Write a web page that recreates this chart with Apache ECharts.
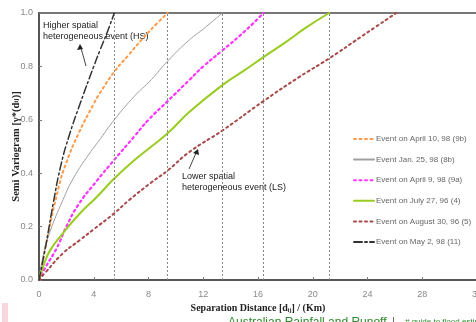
<!DOCTYPE html>
<html>
<head>
<meta charset="utf-8">
<script src="https://cdn.jsdelivr.net/npm/echarts@6/dist/echarts.min.js"></script>
<style>
  html, body { margin: 0; padding: 0; background: #fff; }
  #chart { width: 476px; height: 322px; }
</style>
</head>
<body>
<div id="chart"></div>
<script>
// distance (km) / semi-variogram pairs
var april10 = [[0, 0], [0.5, 0.13], [1.45, 0.35], [2, 0.44], [2.9, 0.55], [4, 0.66], [4.45, 0.7], [5.5, 0.78], [6.5, 0.84], [7.5, 0.9], [8.6, 0.96], [9.4, 1.0]];
var jan25 = [[0, 0], [0.3, 0.09], [0.8, 0.18], [1.75, 0.3], [2.5, 0.38], [3.5, 0.46], [4.5, 0.53], [5.5, 0.6], [7, 0.69], [8.2, 0.75], [9.4, 0.82], [11, 0.9], [12, 0.94], [13.4, 1.0]];
var april9 = [[0, 0], [0.5, 0.05], [1.3, 0.12], [2, 0.2], [2.85, 0.28], [4.2, 0.37], [5.5, 0.45], [7, 0.54], [8, 0.6], [9.4, 0.67], [11, 0.75], [12, 0.8], [13.4, 0.86], [15, 0.93], [16.4, 1.0]];
var july27 = [[0, 0], [0.3, 0.05], [0.8, 0.11], [1.75, 0.175], [3, 0.25], [4.2, 0.31], [5.5, 0.38], [7, 0.45], [9.4, 0.55], [11, 0.63], [13.4, 0.73], [15, 0.785], [16.4, 0.835], [18, 0.89], [19.5, 0.945], [21.2, 1.0]];
var august30 = [[0, 0], [0.5, 0.03], [1.75, 0.1], [3, 0.15], [4, 0.19], [5.5, 0.25], [6.6, 0.3], [8.2, 0.365], [9.4, 0.41], [11, 0.48], [13.4, 0.56], [16.4, 0.67], [19, 0.76], [21.2, 0.83], [23.5, 0.91], [26.1, 1.0]];
var may2 = [[0, 0], [0.5, 0.13], [1.05, 0.29], [1.6, 0.43], [2.2, 0.54], [3, 0.66], [4, 0.8], [4.45, 0.86], [5, 0.93], [5.5, 1.0]];

var eventNames = ['Event on April 10, 98 (9b)', 'Event Jan. 25, 98 (8b)', 'Event on April 9, 98 (9a)',
                  'Event on July 27, 96 (4)', 'Event on August 30, 96 (5)', 'Event on May 2, 98 (11)'];
// distances where the curves reach the sill
var rangeLines = [5.5, 9.4, 13.4, 16.4, 21.2];

var chart = echarts.init(document.getElementById('chart'));

function lineSeries(name, data, color, width, type) {
    return {
        name: name,
        type: 'line',
        data: data,
        symbol: 'none',
        smooth: 0.5,
        itemStyle: { color: color },
        lineStyle: { color: color, width: width, type: type, cap: 'round' },
        z: 3
    };
}

var option = {
    animation: false,
    backgroundColor: '#fff',
    grid: {
        left: 39, top: 13, right: -1, bottom: 42,
        outerBoundsMode: 'none',
        containLabel: false,
        show: true, borderColor: '#777', borderWidth: 2
    },
    legend: {
        orient: 'vertical',
        left: 348, top: 130,
        itemWidth: 20, itemHeight: 10, itemGap: 12.6,
        itemStyle: { opacity: 0 },
        textStyle: { fontFamily: 'Arial', fontSize: 8, color: '#666', padding: [0, 0, 0, -3] },
        data: eventNames
    },
    xAxis: {
        type: 'value',
        min: 0, max: 32, interval: 4,
        name: 'Separation Distance [d{s|ij}] / (Km)',
        nameLocation: 'middle', nameGap: 23,
        nameMoveOverlap: false,
        nameTextStyle: {
            fontFamily: 'Liberation Serif', fontWeight: 'bold', fontSize: 10, color: '#222',
            rich: { s: { fontFamily: 'Liberation Serif', fontWeight: 'bold', fontSize: 6, color: '#222', verticalAlign: 'bottom', padding: [4, 0, 0, 0] } }
        },
        axisLine: { lineStyle: { color: '#555', width: 2 } },
        axisTick: { inside: true, length: 3, lineStyle: { color: '#777' } },
        axisLabel: { color: '#888', fontFamily: 'Arial', fontSize: 9, margin: 10 },
        splitLine: { show: false }
    },
    yAxis: {
        type: 'value',
        min: 0, max: 1, interval: 0.2,
        name: 'Semi Variogram [γ*(d{s|ij})]',
        nameLocation: 'middle', nameGap: 17,
        nameMoveOverlap: false,
        nameTextStyle: {
            fontFamily: 'Liberation Serif', fontWeight: 'bold', fontSize: 10.5, color: '#222',
            rich: { s: { fontFamily: 'Liberation Serif', fontWeight: 'bold', fontSize: 7, color: '#222' } }
        },
        axisLine: { show: true, lineStyle: { color: '#555', width: 2 } },
        axisTick: { show: true, inside: true, length: 3, lineStyle: { color: '#777' } },
        axisLabel: {
            color: '#888', fontFamily: 'Arial', fontSize: 9, margin: 6,
            formatter: function (v) { return v.toFixed(1); }
        },
        splitLine: { show: false }
    },
    series: [
        lineSeries(eventNames[0], april10, '#ff9a4a', 2, [2, 3.5]),
        lineSeries(eventNames[1], jan25, '#a0a0a0', 1, 'solid'),
        lineSeries(eventNames[2], april9, '#ff33ff', 2.2, [2, 3.5]),
        lineSeries(eventNames[3], july27, '#99cc22', 2, 'solid'),
        lineSeries(eventNames[4], august30, '#a84848', 2, [2, 3.5]),
        lineSeries(eventNames[5], may2, '#333333', 1.5, [8, 3, 2, 3]),
        {
            name: 'range',
            type: 'line',
            data: [],
            silent: true,
            markLine: {
                silent: true,
                symbol: 'none',
                label: { show: false },
                lineStyle: { color: '#888', type: [2, 2], width: 1 },
                data: rangeLines.map(function (v) { return { xAxis: v }; })
            },
            z: 1
        }
    ],
    graphic: [
        { type: 'text', left: 43, top: 20, style: { text: 'Higher spatial\nheterogeneous event (HS)', font: '9px Arial', fill: '#222', lineHeight: 11 } },
        { type: 'polyline', shape: { points: [[86, 66], [81, 48]] }, style: { stroke: '#444', lineWidth: 1 } },
        { type: 'polygon', shape: { points: [[80, 44], [77, 50], [83, 49]] }, style: { fill: '#222' } },
        { type: 'text', left: 182, top: 171, style: { text: 'Lower spatial\nheterogeneous event (LS)', font: '9px Arial', fill: '#222', lineHeight: 11 } },
        { type: 'polyline', shape: { points: [[189, 169], [196, 153]] }, style: { stroke: '#444', lineWidth: 1 } },
        { type: 'polygon', shape: { points: [[198, 149], [193, 153], [199, 155]] }, style: { fill: '#222' } },
        { type: 'rect', shape: { x: 2, y: 303, width: 6, height: 19 }, style: { fill: '#f8d8de' } },
        { type: 'text', left: 228, top: 317, style: { text: 'Australian Rainfall and Runoff', font: '12px Arial', fill: '#2b8a2b' } },
        { type: 'text', left: 392, top: 316, style: { text: '|', font: '11px Arial', fill: '#555' } },
        { type: 'text', left: 405, top: 318, style: { text: '# guide to flood estimation', font: '8px Arial', fill: '#2b8a2b' } }
    ]
};

chart.setOption(option);
</script>
</body>
</html>
